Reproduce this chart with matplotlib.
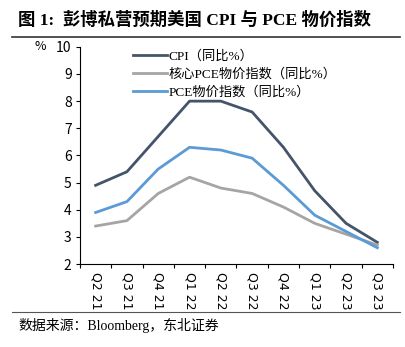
import numpy as np
import matplotlib.pyplot as plt
from matplotlib.lines import Line2D

quarters = ["Q2 21", "Q3 21", "Q4 21", "Q1 22", "Q2 22", "Q3 22", "Q4 22", "Q1 23", "Q2 23", "Q3 23"]
cpi = [4.9, 5.4, 6.7, 8.0, 8.0, 7.6, 6.3, 4.7, 3.5, 2.8]
core_pce = [3.4, 3.6, 4.6, 5.2, 4.8, 4.6, 4.1, 3.5, 3.1, 2.7]
pce = [3.9, 4.3, 5.5, 6.3, 6.2, 5.9, 4.9, 3.8, 3.2, 2.6]

names = ["CPI（同比%）", "核心PCE物价指数（同比%）", "PCE物价指数（同比%）"]
colors = ["#44546A", "#A5A5A5", "#5B9BD5"]

cjk = ["Noto Sans CJK SC", "DejaVu Sans"]
serif = ["Liberation Serif", "Noto Sans CJK SC"]
plt.rcParams['font.family'] = cjk

fig = plt.figure(figsize=(4.06, 3.47), dpi=100)
ax = fig.add_axes([0.197, 0.239, 0.771, 0.626])

x = np.arange(len(quarters))
for ys, c, lab in zip([cpi, core_pce, pce], colors, names):
    ax.plot(x, ys, color=c, lw=2.0, label=lab)

ax.set_xlim(-0.5, len(quarters) - 0.5)
ax.set_ylim(2, 10)
ax.set_yticks(range(2, 11))
ax.set_xticks(np.arange(-0.5, len(quarters) + 0.5, 1), minor=False)
ax.set_xticklabels([])
ax.set_xticks(x, minor=True)
ax.set_xticklabels(quarters, minor=True, rotation=270, fontsize=9, family="DejaVu Sans")
ax.tick_params(axis='x', which='minor', length=0, pad=6)
ax.tick_params(axis='x', which='major', length=3, direction='out')
ax.tick_params(axis='y', length=3, labelsize=10, pad=3)
for s in ['top', 'right']:
    ax.spines[s].set_visible(False)
ax.text(-0.11, 1.0, "%", transform=ax.transAxes, ha='right', va='center', fontsize=9)

leg = ax.legend(loc='upper left', bbox_to_anchor=(0.13, 1.04), frameon=False,
                prop={'family': serif, 'size': 9.5},
                handlelength=2.6, handletextpad=0.1, labelspacing=0.4)

# title and rules
fig.text(0.045, 0.943, "图 1:  彭博私营预期美国 CPI 与 PCE 物价指数", fontsize=12.5,
         fontweight='bold', ha='left', va='center', family=serif)
fig.add_artist(Line2D([0.03, 0.985], [0.892, 0.892], color='#333333', lw=1.2))
fig.add_artist(Line2D([0.03, 0.985], [0.1, 0.1], color='#555555', lw=0.8))
fig.text(0.045, 0.063, "数据来源：Bloomberg，东北证券", fontsize=10, ha='left', va='center',
         family=serif)

fig.savefig("out.png", dpi=100)
